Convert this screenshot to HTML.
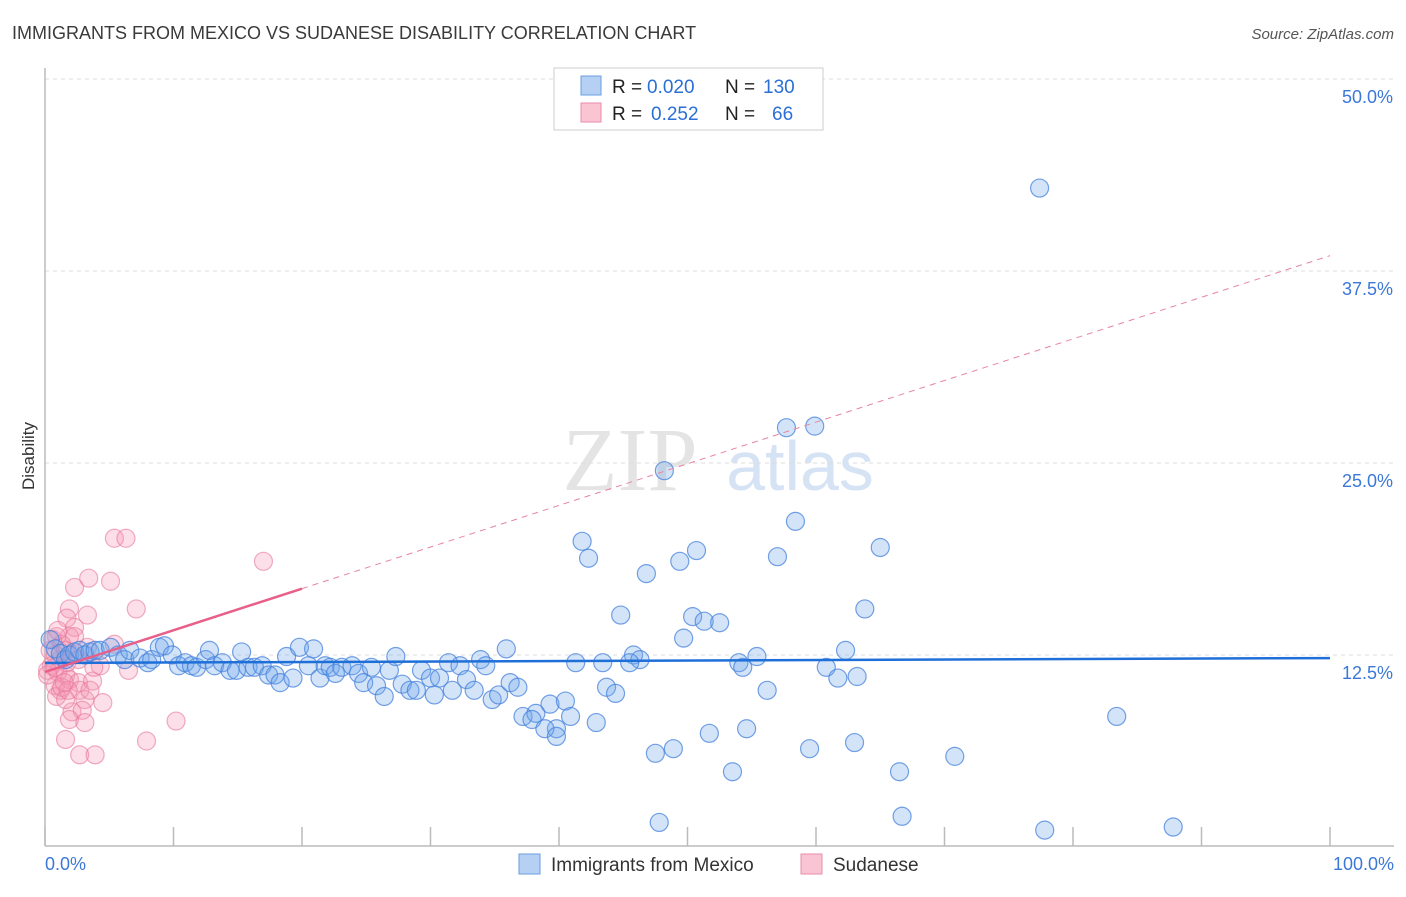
<!DOCTYPE html>
<html><head><meta charset="utf-8"><style>
body{margin:0;background:#fff;font-family:"Liberation Sans",sans-serif}
#wrap{position:relative;width:1406px;height:892px}
</style></head><body>
<div id="wrap">
<svg id="svg" width="1406" height="892" xmlns="http://www.w3.org/2000/svg">
<text x="12" y="39" font-size="18" fill="#3a3a3a">IMMIGRANTS FROM MEXICO VS SUDANESE DISABILITY CORRELATION CHART</text>
<text x="1394" y="39" font-size="15" fill="#555" text-anchor="end" font-style="italic">Source: ZipAtlas.com</text>
<text x="34" y="456" font-size="17" fill="#333" text-anchor="middle" transform="rotate(-90 34 456)">Disability</text>
<text x="630" y="490" font-size="90" fill="#e4e4e4" font-family="Liberation Serif,serif" text-anchor="middle">ZIP</text>
<text x="800" y="490" font-size="70" fill="#d6e3f5" text-anchor="middle">atlas</text>
<g id="grid"></g><g id="axes"></g><g id="pink"></g><g id="blue"></g><g id="lines"></g>
<rect x="554" y="68" width="269" height="62" fill="#fff" stroke="#ccc"/>
<rect x="581" y="76" width="20" height="19" fill="#b5d0f3" stroke="#6a9de0"/>
<rect x="581" y="103" width="20" height="19" fill="#f9c5d3" stroke="#ea8dab"/>
<text x="612" y="93" font-size="19" fill="#222">R =</text>
<text x="647" y="93" font-size="19" fill="#2a6fd6">0.020</text>
<text x="725" y="93" font-size="19" fill="#222">N =</text>
<text x="763" y="93" font-size="19" fill="#2a6fd6">130</text>
<text x="612" y="120" font-size="19" fill="#222">R =</text>
<text x="651" y="120" font-size="19" fill="#2a6fd6">0.252</text>
<text x="725" y="120" font-size="19" fill="#222">N =</text>
<text x="772" y="120" font-size="19" fill="#2a6fd6">66</text>
<rect x="519" y="854" width="21" height="20" fill="#b5d0f3" stroke="#6a9de0"/>
<text x="551" y="871" font-size="19" fill="#333">Immigrants from Mexico</text>
<rect x="801" y="854" width="21" height="20" fill="#f9c5d3" stroke="#ea8dab"/>
<text x="833" y="871" font-size="19" fill="#333">Sudanese</text>
<text x="45" y="870" font-size="18" fill="#3b78d8">0.0%</text>
<text x="1394" y="870" font-size="18" fill="#3b78d8" text-anchor="end">100.0%</text>
</svg>
</div>
<script>
const yTicks=[12.5,25,37.5,50];
const yTickLabels=["12.5%","25.0%","37.5%","50.0%"];
const blueX=[77.4,57.7,59.9,48.2,58.4,41.8,42.3,50.7,49.4,57.0,65.0,46.8,63.8,44.8,50.4,51.3,52.5,49.7,62.3,45.8,46.3,41.3,43.4,45.5,54.0,54.3,55.4,60.8,61.7,63.2,35.9,56.2,43.7,44.4,39.3,40.5,37.2,38.2,40.9,39.8,42.9,37.9,38.9,39.8,83.4,47.5,48.9,51.7,54.6,59.5,63.0,70.8,53.5,66.5,47.8,66.7,77.8,87.8,
0.4,0.8,1.2,1.6,1.9,2.3,2.7,3.1,3.5,3.9,4.3,5.1,5.7,6.2,6.6,7.4,8.0,8.3,8.9,9.3,9.9,10.4,10.9,11.4,11.8,12.5,12.8,13.2,13.8,14.4,14.9,15.3,15.8,16.3,16.9,17.4,17.9,18.3,18.8,19.3,19.8,20.5,20.9,21.4,21.8,22.2,22.6,23.1,23.9,24.4,24.8,25.4,25.8,26.4,26.8,27.3,27.8,28.4,28.9,29.3,30.0,30.3,30.7,31.4,31.7,32.3,32.8,33.4,33.9,34.3,34.8,35.3,36.2,36.8];
const blueY=[42.9,27.3,27.4,24.5,21.2,19.9,18.8,19.3,18.6,18.9,19.5,17.8,15.5,15.1,15.0,14.7,14.6,13.6,12.8,12.5,12.2,12.0,12.0,12.0,12.0,11.7,12.4,11.7,11.0,11.1,12.9,10.2,10.4,10.0,9.3,9.5,8.5,8.7,8.5,7.7,8.1,8.3,7.7,7.2,8.5,6.1,6.4,7.4,7.7,6.4,6.8,5.9,4.9,4.9,1.6,2.0,1.1,1.3,
13.5,12.9,12.6,12.2,12.5,12.7,12.8,12.5,12.7,12.8,12.8,13.0,12.5,12.2,12.8,12.3,12.0,12.2,13.0,13.1,12.5,11.8,12.0,11.8,11.7,12.2,12.8,11.8,12.0,11.5,11.5,12.7,11.7,11.7,11.8,11.2,11.2,10.7,12.4,11.0,13.0,11.8,12.9,11.0,11.8,11.7,11.3,11.7,11.8,11.3,10.7,11.7,10.5,9.8,11.5,12.4,10.6,10.2,10.2,11.5,11.0,9.9,11.0,12.0,10.2,11.8,10.9,10.2,12.2,11.8,9.6,9.9,10.7,10.4];
const pinkX=[5.4,6.3,17.0,2.3,3.4,5.1,1.9,7.1,3.3,1.7,2.3,1.9,0.9,2.3,5.4,1.3,0.4,0.8,1.2,0.5,0.2,1.0,1.6,1.9,1.2,0.8,2.6,3.7,2.7,3.1,6.5,4.5,0.9,2.1,2.9,1.9,3.1,10.2,1.6,7.9,2.7,3.9,1.3,1.7,0.6,1.6,3.3,4.3,0.2,1.6,2.1,2.6,1.0,3.5,1.8,0.8,1.5,3.8];
const pinkY=[20.1,20.1,18.6,16.9,17.5,17.3,15.5,15.5,15.1,14.9,14.3,13.7,13.7,13.7,13.2,13.2,12.8,12.5,12.2,11.8,11.5,11.4,11.2,10.9,10.2,10.5,10.7,10.8,10.2,9.6,11.5,9.4,9.8,8.8,8.9,8.3,8.1,8.2,7.0,6.9,6.0,6.0,10.4,12.0,13.5,12.8,13.0,11.8,11.2,9.6,12.5,12.2,14.1,10.2,10.2,11.7,10.7,11.7];
const blueTrend=[11.98,12.30];
const pinkTrend=[11.4,38.5];
const NS="http://www.w3.org/2000/svg";
const X0=45,X1=1330,Y0=847,YPX=768/50;
function sx(v){return X0+(X1-X0)*v/100;}
function sy(v){return Y0-v*YPX;}
function mk(tag,attrs,parent){const e=document.createElementNS(NS,tag);for(const k in attrs)e.setAttribute(k,attrs[k]);document.getElementById(parent).appendChild(e);return e;}
yTicks.forEach((t,i)=>{
 const l=mk('line',{x1:X0,x2:1394,y1:sy(t),y2:sy(t),stroke:'#ddd','stroke-dasharray':'4,4'},'grid');
 
 
 const tx=mk('text',{x:1393,y:sy(t)+24,'font-size':18,fill:'#3b78d8','text-anchor':'end'},'grid');
 tx.textContent=yTickLabels[i];
 
 
});
const ax=mk('line',{x1:45,x2:45,y1:68,y2:846,stroke:'#bbb','stroke-width':1.5},'axes');


const bx=mk('line',{x1:45,x2:1394,y1:846,y2:846,stroke:'#bbb','stroke-width':1.5},'axes');


for(let i=0;i<=10;i++){
 const t=mk('line',{x1:sx(i*10),x2:sx(i*10),y1:827,y2:846,stroke:'#bbb','stroke-width':1.5},'axes');
 
 
}
pinkX.forEach((x,i)=>{
 const c=mk('circle',{cx:sx(x),cy:sy(pinkY[i]),r:9,fill:'rgba(244,150,180,0.3)',stroke:'rgba(230,120,155,0.6)','stroke-width':1.2},'pink');
 
 
});
blueX.forEach((x,i)=>{
 const c=mk('circle',{cx:sx(x),cy:sy(blueY[i]),r:9,fill:'rgba(110,165,235,0.3)',stroke:'rgba(70,130,220,0.75)','stroke-width':1.2},'blue');
 
 
});
const bl=mk('line',{x1:sx(0),y1:sy(blueTrend[0]),x2:sx(100),y2:sy(blueTrend[1]),stroke:'#1f6fd8','stroke-width':2.5},'lines');


const pAt=x=>pinkTrend[0]+(pinkTrend[1]-pinkTrend[0])*x/100;
const ps=mk('line',{x1:sx(0),y1:sy(pAt(0)),x2:sx(20),y2:sy(pAt(20)),stroke:'#e8608a','stroke-width':2.5},'lines');


const pd=mk('line',{x1:sx(20),y1:sy(pAt(20)),x2:sx(100),y2:sy(pAt(100)),stroke:'#e8849f','stroke-width':1,'stroke-dasharray':'6,5'},'lines');


</script>
</body></html>
